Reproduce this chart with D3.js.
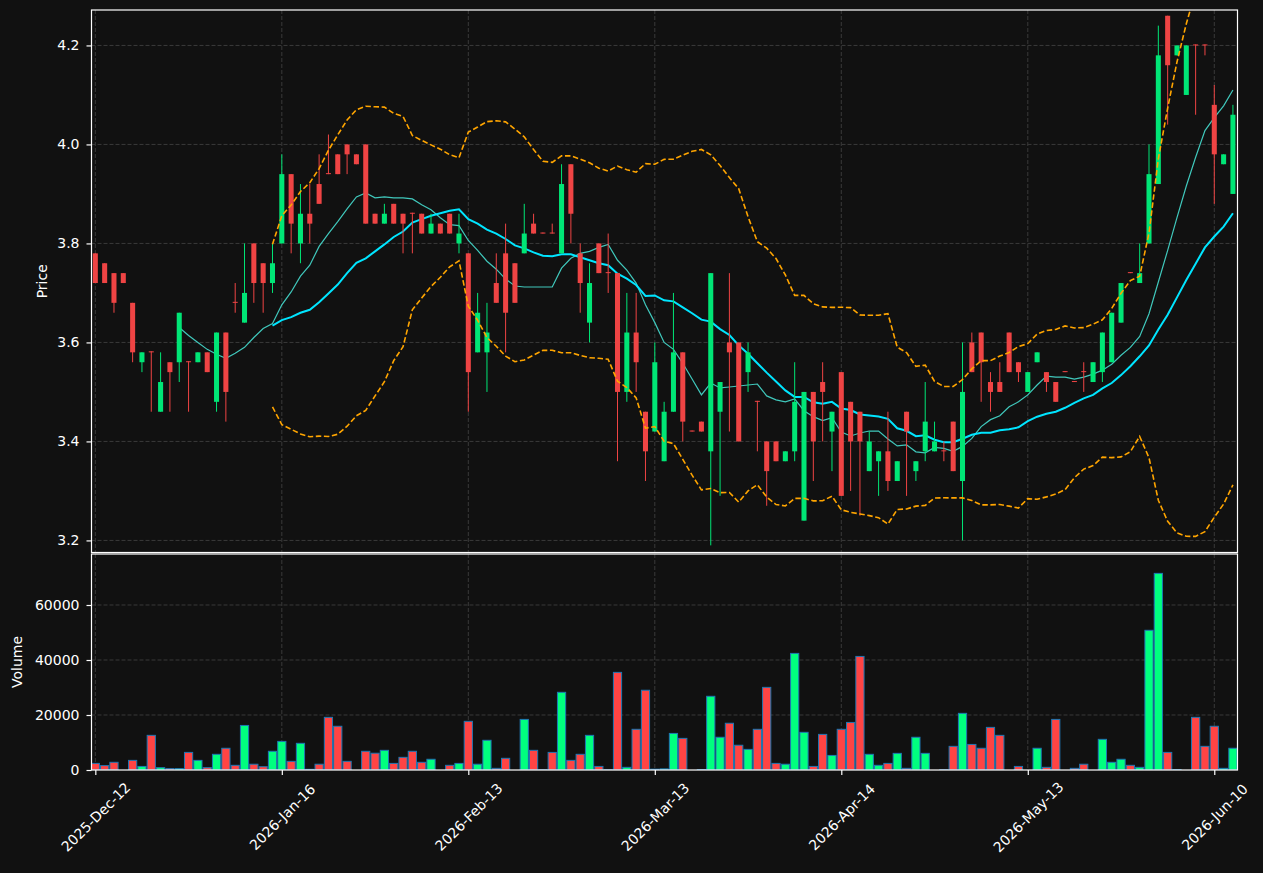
<!DOCTYPE html>
<html>
<head>
<meta charset="utf-8">
<script src="https://cdn.jsdelivr.net/npm/d3@7"></script>
<style>
  html, body { margin: 0; padding: 0; background: #111111; }
  svg { display: block; font-family: "DejaVu Sans", sans-serif; }
</style>
</head>
<body>
<div id="chart"></div>
<script>
// Daily bars, index 0..122 (2025-Dec-12 .. 2026-Jun-10)
const opens = [
  3.78, 3.76, 3.74, 3.74, 3.68, 3.56, 3.582, 3.46, 3.56, 3.56,
  3.562, 3.56, 3.58, 3.48, 3.62, 3.682, 3.64, 3.80, 3.76, 3.72,
  3.80, 3.94, 3.80, 3.86, 3.92, 3.942, 3.98, 4.00, 3.98, 4.00,
  3.86, 3.84, 3.88, 3.86, 3.862, 3.86, 3.82, 3.84, 3.86, 3.80,
  3.78, 3.58, 3.58, 3.72, 3.78, 3.76, 3.78, 3.84, 3.822, 3.822,
  3.78, 3.96, 3.78, 3.64, 3.80, 3.742, 3.74, 3.50, 3.62, 3.46,
  3.42, 3.36, 3.46, 3.58, 3.422, 3.44, 3.38, 3.46, 3.60, 3.60,
  3.54, 3.482, 3.40, 3.40, 3.36, 3.38, 3.24, 3.50, 3.52, 3.42,
  3.54, 3.48, 3.46, 3.34, 3.36, 3.38, 3.32, 3.46, 3.34, 3.38,
  3.38, 3.382, 3.44, 3.32, 3.60, 3.62, 3.52, 3.52, 3.62, 3.56,
  3.50, 3.56, 3.54, 3.52, 3.542, 3.522, 3.542, 3.52, 3.54, 3.56,
  3.64, 3.742, 3.72, 3.80, 3.92, 4.26, 4.18, 4.10, 4.202, 4.202,
  4.08, 3.96, 3.90
];
const highs = [
  3.78, 3.76, 3.74, 3.74, 3.68, 3.58, 3.582, 3.58, 3.56, 3.66,
  3.562, 3.58, 3.58, 3.62, 3.62, 3.72, 3.80, 3.80, 3.76, 3.80,
  3.98, 3.94, 3.92, 3.92, 3.98, 4.02, 3.98, 4.00, 3.98, 4.00,
  3.86, 3.88, 3.88, 3.86, 3.862, 3.86, 3.86, 3.84, 3.86, 3.86,
  3.78, 3.70, 3.68, 3.78, 3.84, 3.76, 3.88, 3.86, 3.822, 3.84,
  3.96, 3.96, 3.80, 3.76, 3.80, 3.82, 3.74, 3.70, 3.70, 3.46,
  3.60, 3.48, 3.70, 3.58, 3.422, 3.44, 3.74, 3.52, 3.74, 3.60,
  3.60, 3.482, 3.40, 3.40, 3.38, 3.56, 3.50, 3.50, 3.56, 3.46,
  3.54, 3.48, 3.46, 3.42, 3.38, 3.46, 3.36, 3.46, 3.36, 3.52,
  3.44, 3.40, 3.44, 3.60, 3.62, 3.62, 3.54, 3.56, 3.62, 3.56,
  3.54, 3.58, 3.54, 3.52, 3.542, 3.522, 3.56, 3.56, 3.62, 3.66,
  3.72, 3.742, 3.80, 4.00, 4.24, 4.26, 4.20, 4.20, 4.202, 4.202,
  4.12, 3.98, 4.08
];
const lows = [
  3.72, 3.72, 3.66, 3.72, 3.56, 3.54, 3.46, 3.46, 3.46, 3.52,
  3.46, 3.56, 3.54, 3.46, 3.44, 3.66, 3.64, 3.68, 3.66, 3.70,
  3.80, 3.78, 3.76, 3.80, 3.88, 3.94, 3.94, 3.94, 3.96, 3.84,
  3.84, 3.84, 3.84, 3.78, 3.78, 3.82, 3.82, 3.82, 3.82, 3.78,
  3.46, 3.58, 3.50, 3.68, 3.58, 3.68, 3.78, 3.82, 3.82, 3.82,
  3.78, 3.80, 3.66, 3.60, 3.74, 3.70, 3.36, 3.48, 3.50, 3.32,
  3.42, 3.36, 3.46, 3.40, 3.42, 3.42, 3.19, 3.29, 3.42, 3.40,
  3.50, 3.38, 3.27, 3.36, 3.36, 3.36, 3.24, 3.32, 3.40, 3.34,
  3.29, 3.30, 3.25, 3.34, 3.29, 3.30, 3.32, 3.29, 3.32, 3.36,
  3.38, 3.36, 3.34, 3.20, 3.54, 3.48, 3.46, 3.50, 3.54, 3.52,
  3.50, 3.56, 3.50, 3.48, 3.54, 3.52, 3.50, 3.52, 3.52, 3.56,
  3.64, 3.74, 3.72, 3.80, 3.92, 4.04, 4.18, 4.10, 4.06, 4.18,
  3.88, 3.96, 3.90
];
const closes = [
  3.72, 3.72, 3.68, 3.72, 3.58, 3.58, 3.58, 3.52, 3.54, 3.66,
  3.56, 3.58, 3.54, 3.62, 3.50, 3.68, 3.70, 3.72, 3.72, 3.76,
  3.94, 3.84, 3.86, 3.84, 3.88, 3.94, 3.94, 3.98, 3.96, 3.84,
  3.84, 3.86, 3.84, 3.84, 3.86, 3.82, 3.84, 3.82, 3.82, 3.82,
  3.54, 3.66, 3.62, 3.68, 3.66, 3.68, 3.82, 3.82, 3.82, 3.82,
  3.92, 3.86, 3.72, 3.72, 3.74, 3.74, 3.50, 3.62, 3.56, 3.38,
  3.56, 3.46, 3.58, 3.44, 3.42, 3.42, 3.74, 3.52, 3.58, 3.40,
  3.58, 3.48, 3.34, 3.36, 3.38, 3.48, 3.50, 3.40, 3.50, 3.46,
  3.29, 3.40, 3.40, 3.40, 3.38, 3.32, 3.36, 3.42, 3.36, 3.44,
  3.40, 3.38, 3.34, 3.50, 3.54, 3.56, 3.50, 3.50, 3.54, 3.54,
  3.54, 3.58, 3.52, 3.48, 3.54, 3.52, 3.54, 3.56, 3.62, 3.66,
  3.72, 3.74, 3.74, 3.94, 4.18, 4.16, 4.20, 4.20, 4.20, 4.20,
  3.98, 3.98, 4.06
];
const volumes = [
  2400, 1600, 2800, 0, 3500, 1300, 12600, 850, 500, 500,
  6400, 3500, 850, 5700, 7900, 1700, 16200, 2100, 1200, 6800,
  10400, 3150, 9700, 250, 2100, 19150, 15900, 3150, 0, 6800,
  6100, 7150, 2400, 4600, 6800, 2800, 3900, 0, 1700, 2400,
  17700, 2100, 10800, 600, 4250, 0, 18400, 7150, 100, 6400,
  28250, 3500, 5700, 12600, 1300, 100, 35500, 970, 14800, 29000,
  300, 400, 13300, 11500, 0, 150, 26800, 11900, 17000, 9000,
  7500, 14800, 30050, 2400, 2100, 42400, 13700, 1300, 12950, 5300,
  14800, 17300, 41300, 5700, 1700, 2400, 6050, 600, 11900, 6050,
  0, 100, 8600, 20600, 9300, 7900, 15500, 12600, 0, 1300,
  0, 7900, 970, 18400, 0, 600, 2100, 0, 11150, 2800,
  3900, 1700, 970, 50800, 71500, 6400, 150, 0, 19150, 8600,
  15900, 600, 7900
];

const tickIndex = [0, 20, 40, 60, 80, 100, 120];
const tickLabels = ['2025-Dec-12', '2026-Jan-16', '2026-Feb-13', '2026-Mar-13', '2026-Apr-14', '2026-May-13', '2026-Jun-10'];
const priceTicks = [3.2, 3.4, 3.6, 3.8, 4.0, 4.2];
const volumeTicks = [0, 20000, 40000, 60000];

const width = 1263, height = 873;
const left = 91.5, right = 1237.5;
const priceTop = 10, priceBottom = 552.5;
const volTop = 554, volBottom = 770;

const colors = {
  bg: '#111111',
  up: '#00e676',
  down: '#ef4444',
  volUp: '#00ff7f',
  volDown: '#ff4444',
  volEdge: '#1f77b4',
  ma10: '#40c8bc',
  ma20: '#00e5ff',
  band: '#ffa500',
  grid: '#3a3a3a',
  fg: '#ffffff'
};

const bars = opens.map((o, i) => ({
  i, open: o, high: highs[i], low: lows[i], close: closes[i], volume: volumes[i],
  up: closes[i] >= o
}));

// rolling statistics on close
function rolling(values, w, fn) {
  return values.map((v, i) => i < w - 1 ? null : fn(values.slice(i - w + 1, i + 1)));
}
const ma10 = rolling(closes, 10, d3.mean);
const ma20 = rolling(closes, 20, d3.mean);
const sd20 = rolling(closes, 20, d3.deviation);
const upper = ma20.map((m, i) => m == null ? null : m + 2 * sd20[i]);
const lower = ma20.map((m, i) => m == null ? null : m - 2 * sd20[i]);

const x = d3.scaleLinear().domain([-0.41, 122.49]).range([left, right]);
const yPrice = d3.scaleLinear().domain([3.1756, 4.2716]).range([priceBottom, priceTop]);
const yVol = d3.scaleLinear().domain([0, 78545]).range([volBottom, volTop]);

const step = x(1) - x(0);

const svg = d3.select('#chart').append('svg')
  .attr('width', width)
  .attr('height', height)
  .attr('viewBox', `0 0 ${width} ${height}`);

svg.append('rect').attr('width', width).attr('height', height).attr('fill', colors.bg);

const defs = svg.append('defs');
defs.append('clipPath').attr('id', 'clip-price')
  .append('rect').attr('x', left).attr('y', priceTop).attr('width', right - left).attr('height', priceBottom - priceTop);
defs.append('clipPath').attr('id', 'clip-vol')
  .append('rect').attr('x', left).attr('y', volTop).attr('width', right - left).attr('height', volBottom - volTop);

// ---- grids
function grid(g, yScale, ticks, y0, y1) {
  g.selectAll('.hg').data(ticks).join('line')
    .attr('x1', left).attr('x2', right)
    .attr('y1', d => yScale(d)).attr('y2', d => yScale(d))
    .attr('stroke', colors.grid).attr('stroke-width', 1).attr('stroke-dasharray', '4,2');
  g.selectAll('.vg').data(tickIndex).join('line')
    .attr('x1', d => x(d)).attr('x2', d => x(d))
    .attr('y1', y0).attr('y2', y1)
    .attr('stroke', colors.grid).attr('stroke-width', 1).attr('stroke-dasharray', '4,2');
}
grid(svg.append('g'), yPrice, priceTicks, priceTop, priceBottom);
grid(svg.append('g'), yVol, volumeTicks.slice(1), volTop, volBottom);

// ---- price panel
const pricePlot = svg.append('g').attr('clip-path', 'url(#clip-price)');

const maLine = d3.line()
  .defined(d => d != null)
  .x((d, i) => x(i))
  .y(d => yPrice(d));

pricePlot.append('path').datum(ma10)
  .attr('d', maLine).attr('fill', 'none')
  .attr('stroke', colors.ma10).attr('stroke-width', 1.2);
pricePlot.append('path').datum(ma20)
  .attr('d', maLine).attr('fill', 'none')
  .attr('stroke', colors.ma20).attr('stroke-width', 2);

const candles = pricePlot.append('g').selectAll('g').data(bars).join('g');
candles.append('line')
  .attr('x1', d => x(d.i)).attr('x2', d => x(d.i))
  .attr('y1', d => yPrice(d.high)).attr('y2', d => yPrice(d.low))
  .attr('stroke', d => d.up ? colors.up : colors.down)
  .attr('stroke-width', 1);
const bodyW = step * 0.54;
candles.append('rect')
  .attr('x', d => x(d.i) - bodyW / 2)
  .attr('width', bodyW)
  .attr('y', d => yPrice(Math.max(d.open, d.close)))
  .attr('height', d => Math.max(1, Math.abs(yPrice(d.open) - yPrice(d.close))))
  .attr('fill', d => d.up ? colors.up : colors.down);

[upper, lower].forEach(band => {
  pricePlot.append('path').datum(band)
    .attr('d', maLine).attr('fill', 'none')
    .attr('stroke', colors.band).attr('stroke-width', 1.6)
    .attr('stroke-dasharray', '5.5,2.6');
});

// ---- volume panel
const volPlot = svg.append('g').attr('clip-path', 'url(#clip-vol)');
const volW = step * 0.88;
volPlot.selectAll('rect').data(bars.filter(d => d.volume > 0)).join('rect')
  .attr('x', d => x(d.i) - volW / 2)
  .attr('width', volW)
  .attr('y', d => yVol(d.volume))
  .attr('height', d => yVol(0) - yVol(d.volume))
  .attr('fill', d => d.up ? colors.volUp : colors.volDown)
  .attr('stroke', colors.volEdge)
  .attr('stroke-width', 1);

// ---- frames
[[priceTop, priceBottom], [volTop, volBottom]].forEach(([t, b]) => {
  svg.append('rect')
    .attr('x', left).attr('y', t)
    .attr('width', right - left).attr('height', b - t)
    .attr('fill', 'none').attr('stroke', colors.fg).attr('stroke-width', 1.2);
});

// ---- axes
function styleAxis(g) {
  g.select('.domain').remove();
  g.selectAll('.tick line').attr('stroke', colors.fg).attr('stroke-width', 1.2);
  g.selectAll('.tick text')
    .attr('fill', colors.fg)
    .style('font-size', '14px')
    .style('font-family', '"DejaVu Sans", sans-serif');
}

svg.append('g')
  .attr('transform', `translate(${left},0)`)
  .call(d3.axisLeft(yPrice).tickValues(priceTicks).tickFormat(d3.format('.1f')).tickSize(5).tickPadding(7))
  .call(styleAxis);

svg.append('g')
  .attr('transform', `translate(${left},0)`)
  .call(d3.axisLeft(yVol).tickValues(volumeTicks).tickFormat(d3.format('d')).tickSize(5).tickPadding(7))
  .call(styleAxis);

const xAxis = svg.append('g')
  .attr('transform', `translate(0,${volBottom})`)
  .call(d3.axisBottom(x).tickValues(tickIndex).tickFormat((d, i) => tickLabels[i]).tickSize(5))
  .call(styleAxis);
xAxis.selectAll('.tick text')
  .attr('y', null).attr('dy', null)
  .attr('text-anchor', 'middle')
  .attr('dominant-baseline', 'central')
  .attr('transform', 'translate(0,47) rotate(-45)');

// ---- axis titles
svg.append('text')
  .attr('transform', `translate(42,${(priceTop + priceBottom) / 2}) rotate(-90)`)
  .attr('text-anchor', 'middle')
  .attr('dominant-baseline', 'central')
  .attr('fill', colors.fg)
  .style('font-size', '14px')
  .text('Price');

svg.append('text')
  .attr('transform', `translate(17,${(volTop + volBottom) / 2}) rotate(-90)`)
  .attr('text-anchor', 'middle')
  .attr('dominant-baseline', 'central')
  .attr('fill', colors.fg)
  .style('font-size', '14px')
  .text('Volume');
</script>
</body>
</html>
